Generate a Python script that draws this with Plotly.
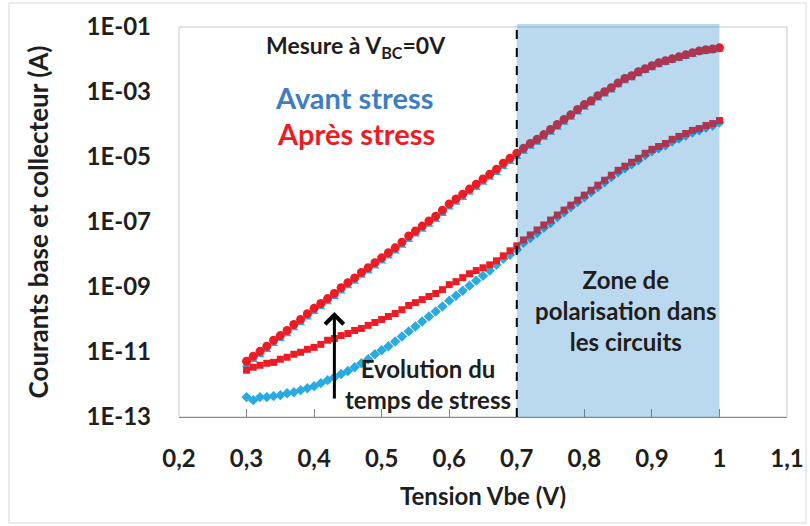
import plotly.graph_objects as go

# ---------------- data ----------------
vbe = [round(0.30 + 0.01 * i, 2) for i in range(71)]

ic_avant = [4.0e-12, 5.7e-12, 8.1e-12, 1.16e-11, 1.77e-11, 2.5e-11, 3.5e-11, 5.4e-11, 7.7e-11, 1.16e-10,
            1.7e-10, 2.4e-10, 3.4e-10, 4.9e-10, 7.3e-10, 1.05e-9, 1.46e-9, 2.2e-9, 3.0e-9, 4.3e-9,
            6.1e-9, 8.7e-9, 1.23e-8, 1.85e-8, 2.8e-8, 4.1e-8, 5.8e-8, 8.2e-8, 1.16e-7, 1.77e-7,
            2.8e-7, 3.9e-7, 5.5e-7, 7.9e-7, 1.12e-6, 1.6e-6, 2.3e-6, 3.2e-6, 4.9e-6, 7.0e-6,
            1.0e-5, 1.45e-5, 2.05e-5, 2.75e-5, 3.9e-5, 5.6e-5, 8.0e-5, 1.14e-4, 1.62e-4, 2.35e-4,
            3.3e-4, 4.4e-4, 6.3e-4, 8.4e-4, 1.12e-3, 1.6e-3, 2.15e-3, 2.65e-3, 3.5e-3, 4.4e-3,
            5.4e-3, 6.7e-3, 7.8e-3, 9.0e-3, 1.04e-2, 1.2e-2, 1.38e-2, 1.6e-2, 1.72e-2, 1.85e-2,
            2.0e-2]

ib_avant = [4.1e-13, 3.3e-13, 4.1e-13, 4.1e-13, 4.4e-13, 4.7e-13, 5.4e-13, 5.8e-13, 6.7e-13, 7.7e-13,
            8.9e-13, 1.10e-12, 1.36e-12, 1.68e-12, 2.1e-12, 2.6e-12, 3.4e-12, 4.5e-12, 6.0e-12, 8.5e-12,
            1.13e-11, 1.5e-11, 2.1e-11, 3.0e-11, 4.3e-11, 6.1e-11, 8.7e-11, 1.24e-10, 1.76e-10, 2.5e-10,
            3.8e-10, 5.4e-10, 7.7e-10, 1.10e-9, 1.57e-9, 2.2e-9, 3.2e-9, 4.8e-9, 7.4e-9, 9.8e-9,
            1.39e-8, 2.3e-8, 3.2e-8, 4.6e-8, 6.6e-8, 9.3e-8, 1.43e-7, 2.0e-7, 2.9e-7, 4.1e-7,
            5.8e-7, 8.3e-7, 1.18e-6, 1.68e-6, 2.4e-6, 3.4e-6, 4.5e-6, 6.0e-6, 7.9e-6, 1.12e-5,
            1.49e-5, 1.85e-5, 2.3e-5, 3.0e-5, 3.7e-5, 4.6e-5, 5.7e-5, 6.6e-5, 8.1e-5, 9.3e-5,
            1.15e-4]

ic_apres = [5.2e-12, 7.4e-12, 1.05e-11, 1.5e-11, 2.3e-11, 3.2e-11, 4.6e-11, 7.0e-11, 1.0e-10, 1.5e-10,
            2.2e-10, 3.1e-10, 4.4e-10, 6.3e-10, 9.5e-10, 1.36e-9, 1.9e-9, 2.8e-9, 3.9e-9, 5.6e-9,
            7.9e-9, 1.13e-8, 1.6e-8, 2.4e-8, 3.7e-8, 5.3e-8, 7.5e-8, 1.07e-7, 1.5e-7, 2.3e-7,
            3.6e-7, 5.1e-7, 7.2e-7, 1.03e-6, 1.46e-6, 2.1e-6, 2.95e-6, 4.2e-6, 6.4e-6, 9.1e-6,
            1.3e-5, 1.85e-5, 2.6e-5, 3.5e-5, 4.9e-5, 7.0e-5, 1.0e-4, 1.42e-4, 2.0e-4, 2.9e-4,
            4.1e-4, 5.4e-4, 7.7e-4, 1.02e-3, 1.36e-3, 1.9e-3, 2.6e-3, 3.16e-3, 4.2e-3, 5.2e-3,
            6.4e-3, 7.9e-3, 9.1e-3, 1.05e-2, 1.21e-2, 1.39e-2, 1.6e-2, 1.84e-2, 2.0e-2, 2.1e-2,
            2.3e-2]

ib_apres = [2.75e-12, 3.4e-12, 3.9e-12, 4.5e-12, 4.8e-12, 6.0e-12, 6.9e-12, 8.5e-12, 9.8e-12, 1.21e-11,
            1.39e-11, 1.72e-11, 2.3e-11, 2.6e-11, 3.2e-11, 3.7e-11, 4.6e-11, 5.3e-11, 6.6e-11, 8.1e-11,
            1.0e-10, 1.24e-10, 1.53e-10, 2.0e-10, 2.7e-10, 3.3e-10, 4.1e-10, 5.1e-10, 6.3e-10, 8.3e-10,
            1.18e-9, 1.46e-9, 1.94e-9, 2.56e-9, 3.2e-9, 3.9e-9, 4.8e-9, 6.4e-9, 9.1e-9, 1.3e-8,
            1.85e-8, 2.8e-8, 4.0e-8, 5.7e-8, 8.1e-8, 1.15e-7, 1.64e-7, 2.33e-7, 3.3e-7, 4.7e-7,
            6.7e-7, 9.5e-7, 1.36e-6, 1.93e-6, 2.75e-6, 3.9e-6, 5.2e-6, 6.9e-6, 9.1e-6, 1.3e-5,
            1.72e-5, 2.1e-5, 2.6e-5, 3.5e-5, 4.3e-5, 5.3e-5, 6.6e-5, 7.5e-5, 9.3e-5, 1.07e-4,
            1.33e-4]

x_tickvals = [0.2, 0.3, 0.4, 0.5, 0.6, 0.7, 0.8, 0.9, 1.0, 1.1]
x_ticktext = ["0,2", "0,3", "0,4", "0,5", "0,6", "0,7", "0,8", "0,9", "1", "1,1"]
y_tickvals = [1e-13, 1e-11, 1e-9, 1e-7, 1e-5, 1e-3, 1e-1]
y_ticktext = ["1E-13", "1E-11", "1E-09", "1E-07", "1E-05", "1E-03", "1E-01"]

zone_start, zone_end = 0.7, 1.0
arrow_x = 0.43

# ---------------- figure ----------------
FONT = "Lato"
BLUE = "rgb(41,171,226)"
RED = "rgb(237,28,36)"
TXT = "rgb(30,30,30)"

fig = go.Figure()
fig.add_trace(go.Scatter(x=vbe, y=ic_avant, mode="markers", name="Ic avant",
                         marker=dict(symbol="triangle-up", size=8, color=BLUE)))
fig.add_trace(go.Scatter(x=vbe, y=ib_avant, mode="markers", name="Ib avant",
                         marker=dict(symbol="diamond", size=8, color=BLUE)))
fig.add_trace(go.Scatter(x=vbe, y=ic_apres, mode="markers", name="Ic après",
                         marker=dict(symbol="circle", size=9, color=RED)))
fig.add_trace(go.Scatter(x=vbe, y=ib_apres, mode="markers", name="Ib après",
                         marker=dict(symbol="square", size=7, color=RED)))

# the page body margin is removed by post_script, so figure pixels == window pixels
PL, PR, PT, PB = 179, 787, 27, 417          # plot area in window pixels
W, H = 810, 526
L, R, T, B = PL, W - PR, PT, H - PB
pw, ph = PR - PL, PB - PT

def px(xw):
    return (xw - PL) / pw

def py(yw):
    return (PB - yw) / ph

shapes = [
    dict(type="rect", xref="paper", yref="paper", x0=0, x1=1, y0=0, y1=1,
         line=dict(color="rgb(200,200,200)", width=1), fillcolor="rgba(0,0,0,0)", layer="below"),
    dict(type="rect", xref="x", yref="paper", x0=zone_start, x1=zone_end, y0=0, y1=py(24),
         fillcolor="rgb(12,119,194)", opacity=0.28, line=dict(width=0), layer="above"),
    dict(type="line", xref="x", yref="paper", x0=zone_start, x1=zone_start, y0=0, y1=py(24),
         line=dict(color="black", width=2, dash="dash"), layer="above"),
    dict(type="rect", xref="paper", yref="paper", x0=px(9), x1=px(806), y0=py(523), y1=py(3),
         line=dict(color="rgb(217,217,217)", width=1), fillcolor="rgba(0,0,0,0)", layer="below"),
]

annotations = [
    dict(x=px(356), y=py(46), xref="paper", yref="paper", showarrow=False, xanchor="center", yanchor="middle",
         text="<b>Mesure à V<sub>BC</sub>=0V</b>", font=dict(family=FONT, size=23, color=TXT)),
    dict(x=px(354), y=py(97), xref="paper", yref="paper", showarrow=False, xanchor="center", yanchor="middle",
         text="<b>Avant stress</b>", font=dict(family=FONT, size=29, color="rgb(62,125,195)")),
    dict(x=px(356), y=py(133), xref="paper", yref="paper", showarrow=False, xanchor="center", yanchor="middle",
         text="<b>Après stress</b>", font=dict(family=FONT, size=29, color=RED)),
    dict(x=px(428), y=py(384), xref="paper", yref="paper", showarrow=False, xanchor="center", yanchor="middle",
         text="<b>Evolution du<br>temps de stress</b>", font=dict(family=FONT, size=24, color=TXT)),
    dict(x=px(626), y=py(310), xref="paper", yref="paper", showarrow=False, xanchor="center", yanchor="middle",
         text="<b>Zone de<br>polarisation dans<br>les circuits</b>", font=dict(family=FONT, size=24, color=TXT)),
    dict(x=arrow_x, y=py(312), xref="x", yref="y domain", ax=arrow_x, ay=py(400), axref="x", ayref="y domain",
         showarrow=True, text="", arrowhead=4, arrowsize=1.2, arrowwidth=3, arrowcolor="black"),
]

fig.update_layout(
    width=W, height=H,
    margin=dict(l=L, r=R, t=T, b=B),
    paper_bgcolor="white", plot_bgcolor="white",
    showlegend=False,
    shapes=shapes, annotations=annotations,
    font=dict(family=FONT, color=TXT),
)
fig.update_xaxes(range=[0.2, 1.1], tickvals=x_tickvals, ticktext=x_ticktext,
                 showgrid=False, zeroline=False, showline=True, linecolor="rgb(134,134,134)", linewidth=1,
                 ticks="inside", ticklen=8, tickcolor="rgb(134,134,134)",
                 ticklabelstandoff=20,
                 tickfont=dict(family=FONT, size=24, color=TXT, weight="bold"),
                 title=dict(text="<b>Tension Vbe (V)</b>", font=dict(family=FONT, size=24, color=TXT), standoff=17),
                 automargin=False)
fig.update_yaxes(type="log", range=[-13, -1], tickvals=y_tickvals, ticktext=y_ticktext,
                 showgrid=False, zeroline=False, showline=False, ticks="",
                 ticklabelstandoff=27,
                 tickfont=dict(family=FONT, size=24, color=TXT, weight="bold"),
                 title=dict(text="<b>Courants base et collecteur (A)</b>", font=dict(family=FONT, size=26, color=TXT), standoff=30),
                 automargin=False)

fig.write_html("out.html",
               config={"displayModeBar": False},
               post_script="document.body.style.margin='0';document.body.style.overflow='hidden';")
